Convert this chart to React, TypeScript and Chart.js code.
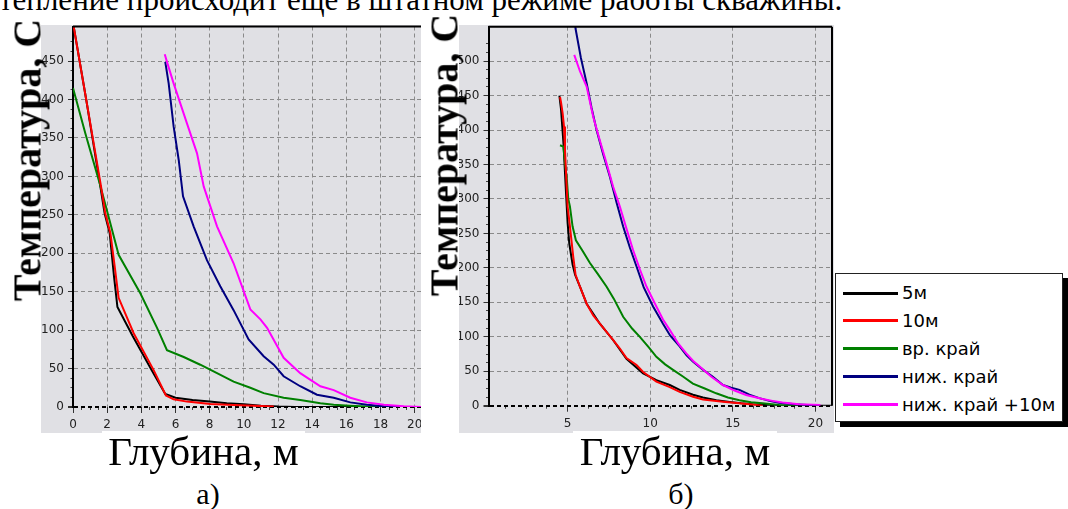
import React, { useEffect, useRef } from 'react';
import { Chart, registerables } from 'chart.js';

Chart.register(...registerables);

type Pt = [number, number];

// ---------- data ----------
const seriesLabels = ['5м', '10м', 'вр. край', 'ниж. край', 'ниж. край +10м'];
const seriesColors = ['#000000', '#ff0000', '#008000', '#000080', '#ff00ff'];

// chart а)
const a5m: Pt[] = [[0, 500], [0.78, 399], [1.6, 287], [1.85, 252], [2.15, 226], [2.4, 170], [2.6, 130], [3.5, 92], [4.6, 48], [5.4, 17], [6, 12], [7, 9], [8, 7], [9, 5], [10, 3.5], [11, 1.5], [12, 0.5], [13, 0], [20.4, 0]];
const a10m: Pt[] = [[0, 500], [0.78, 399], [1.64, 287], [1.89, 252], [2.19, 226], [2.44, 183], [2.67, 142], [3.55, 96], [4.72, 48], [5.44, 15], [5.89, 10], [6.67, 7], [8.04, 4], [9.4, 2.5], [10.6, 1.5], [11.75, 0.5]];
const aTop: Pt[] = [[0, 415], [0.72, 356], [1.56, 291], [2.03, 252], [2.67, 198], [3.94, 148], [4.92, 103], [5.5, 74], [6.48, 65], [7.45, 55], [8.43, 44], [9.4, 33], [10.38, 25], [11.16, 18], [12.33, 12], [13.3, 9], [14.48, 5], [15.26, 3], [16.2, 1.7], [17.2, 0.5], [18.2, 0]];
const aBottom: Pt[] = [[5.4, 449], [5.6, 421], [5.89, 365], [6.19, 321], [6.44, 274], [7.06, 235], [7.84, 191], [8.62, 157], [9.4, 126], [10.28, 88], [11.16, 66], [11.75, 55], [12.33, 40], [13.3, 27], [14.28, 16], [15.26, 12], [16.23, 6], [17.2, 3], [18.2, 0.9], [19.2, 0]];
const aBottom10: Pt[] = [[5.37, 459], [5.5, 449], [5.89, 421], [6.67, 369], [7.26, 330], [7.65, 287], [8.43, 235], [9.4, 187], [10.38, 127], [10.97, 114], [11.36, 103], [12.33, 64], [13.3, 44], [14.48, 27], [15.26, 22], [16.23, 12], [17.2, 6], [18.2, 3], [19.36, 0.9], [20.4, 0]];

// chart б)
const b5m: Pt[] = [[4.5, 450], [4.6, 430], [4.75, 380], [4.9, 310], [5.0, 265], [5.1, 235], [5.3, 205], [5.45, 190], [5.74, 173], [6.15, 148], [6.95, 119], [7.76, 95], [8.56, 68], [9.57, 47], [10.37, 37], [11.18, 30], [11.78, 23], [12.59, 16], [13.19, 12], [14, 8], [14.8, 5.5], [15.5, 3.5], [16.2, 2], [17, 1], [17.6, 0], [21, 0]];
const b10m: Pt[] = [[4.54, 448], [4.6, 440], [4.7, 424], [4.78, 405], [4.84, 371], [4.94, 318], [5.0, 289], [5.14, 260], [5.34, 216], [5.48, 190], [5.74, 173], [6.15, 148], [6.55, 131], [6.95, 119], [7.76, 95], [8.16, 83], [8.56, 69], [9.17, 59], [9.57, 49], [10.37, 35], [11.18, 27], [11.78, 20], [12.59, 13], [13.19, 9], [14.4, 5.8], [15.4, 3.4], [16.0, 2], [16.8, 0]];
const bTop: Pt[] = [[4.54, 378], [4.74, 376], [4.85, 350], [4.94, 332], [5.04, 300], [5.14, 289], [5.3, 260], [5.5, 240], [5.9, 225], [6.35, 207], [6.8, 192], [7.35, 173], [7.8, 155], [8.36, 129], [8.9, 112], [9.37, 100], [9.9, 85], [10.37, 71], [10.9, 60], [11.38, 52], [12.0, 42], [12.58, 32], [13.3, 25], [13.99, 18], [14.7, 12], [15.4, 8], [16.1, 5], [16.8, 3.4], [17.8, 1], [18.8, 0]];
const bBottom: Pt[] = [[5.42, 560], [5.48, 547], [5.8, 505], [6.15, 468], [6.45, 432], [6.75, 400], [7.15, 365], [7.56, 332], [7.96, 295], [8.36, 260], [8.76, 230], [9.17, 202], [9.6, 172], [10.17, 144], [10.77, 119], [11.2, 102], [11.78, 86], [12.2, 73], [12.58, 64], [13.2, 52], [13.79, 42], [14.4, 30], [14.9, 26], [15.4, 23], [16.0, 16], [16.6, 11], [17.2, 7], [17.8, 4.4], [18.8, 2], [19.5, 1], [20.2, 0]];
const bBottom10: Pt[] = [[5.4, 509], [5.75, 485], [6.15, 463], [6.55, 419], [6.95, 385], [7.35, 352], [7.75, 318], [8.16, 289], [8.56, 257], [8.96, 226], [9.37, 198], [9.77, 173], [10.37, 144], [10.77, 125], [11.18, 110], [11.7, 90], [12.18, 76], [12.6, 65], [12.99, 57], [13.7, 42], [14.4, 30], [15.1, 22], [15.8, 15.5], [16.8, 9.7], [17.4, 7], [18.0, 4.8], [19.0, 2], [20.3, 1]];

const seriesA = [a5m, a10m, aTop, aBottom, aBottom10];
const seriesB = [b5m, b10m, bTop, bBottom, bBottom10];
const drawOrder = [5, 2, 4, 3, 1];

// axes: [min, max], major step (labels + grid), minor step (small ticks)
const xRangeA = [0, 20.37];
const yRangeA = [0, 495];
const xMajorA = 2;
const xMinorA = 0.5;
const yMajorA = 50;
const yMinorA = 12.5;
const yLabelMaxA = 450;

const xRangeB = [0.21, 21.0];
const yRangeB = [0, 550];
const xMajorB = 5;
const xMinorB = 1.25;
const yMajorB = 50;
const yMinorB = 12.5;
const yLabelMaxB = 500;

const topText = 'тепление происходит еще в штатном режиме работы скважины.';
const yTitle = 'Температура, С';
const xTitle = 'Глубина, м';
const captions = ['а)', 'б)'];

// ---------- styles ----------
const GREY = '#e0e0e4';
const GRID = '#8a8a8a';
const TICK_FONT = { family: 'DejaVu Sans', size: 12 };
const SERIF = '"Liberation Serif", "Times New Roman", serif';
const CLEAR = 'rgba(0,0,0,0)';

const framePlugin = {
  id: 'frame',
  afterDatasetsDraw(chart: any, _args: any, opts: any) {
    const { ctx, chartArea } = chart;
    const { left, right, top, bottom } = chartArea;
    ctx.save();
    ctx.strokeStyle = '#000';
    ctx.lineWidth = 2;
    ctx.setLineDash([]);
    ctx.beginPath();
    ctx.moveTo(left, top);
    ctx.lineTo(right, top);
    if (opts && opts.right) {
      ctx.moveTo(right, top);
      ctx.lineTo(right, bottom);
    }
    ctx.stroke();
    ctx.restore();
  },
};

const isMult = (v: number, step: number) => {
  const r = Math.abs(v / step - Math.round(v / step));
  return r < 1e-6;
};

interface Cfg {
  series: Pt[][];
  xr: number[];
  yr: number[];
  xMajor: number;
  xMinor: number;
  yMajor: number;
  yMinor: number;
  yLabelMax: number;
  yWidth: number;
  xHeight: number;
  padTop: number;
  padRight: number;
  rightFrame: boolean;
}

function makeConfig(c: Cfg): any {
  return {
    type: 'line',
    data: {
      datasets: c.series.map((pts, i) => ({
        label: seriesLabels[i],
        data: pts.map(([x, y]) => ({ x, y })),
        borderColor: seriesColors[i],
        backgroundColor: seriesColors[i],
        borderWidth: 2,
        pointRadius: 0,
        tension: 0,
        fill: false,
        order: drawOrder[i],
        xAxisID: 'x',
        yAxisID: 'y',
      })),
    },
    plugins: [framePlugin],
    options: {
      animation: false,
      responsive: false,
      maintainAspectRatio: false,
      events: [],
      layout: { padding: { left: 0, right: c.padRight, top: c.padTop, bottom: 0 } },
      plugins: {
        legend: { display: false },
        tooltip: { enabled: false },
        frame: { right: c.rightFrame },
      },
      scales: {
        x: {
          type: 'linear',
          position: 'bottom',
          weight: 0,
          min: c.xr[0],
          max: c.xr[1],
          ticks: {
            stepSize: c.xMajor,
            includeBounds: false,
            autoSkip: false,
            maxRotation: 0,
            color: '#222',
            font: TICK_FONT,
            padding: 5,
          },
          grid: {
            color: GRID,
            lineWidth: 1,
            tickColor: '#333',
            tickLength: 6,
          },
          border: { display: false, dash: [4, 3] },
          afterFit: (s: any) => {
            s.height = c.xHeight;
            s.paddingLeft = 0;
            s.paddingRight = 0;
          },
        },
        xMinor: {
          type: 'linear',
          position: 'bottom',
          weight: -1,
          min: c.xr[0],
          max: c.xr[1],
          ticks: { stepSize: c.xMinor, includeBounds: false, autoSkip: false, display: false },
          grid: {
            drawOnChartArea: false,
            tickColor: (ctx: any) => (ctx.tick && isMult(ctx.tick.value, c.xMajor) ? CLEAR : '#444'),
            tickLength: 3,
          },
          border: { display: false },
          afterFit: (s: any) => {
            s.height = 0;
            s.paddingLeft = 0;
            s.paddingRight = 0;
          },
        },
        y: {
          type: 'linear',
          position: 'left',
          weight: 0,
          min: c.yr[0],
          max: c.yr[1],
          ticks: {
            stepSize: c.yMajor,
            includeBounds: false,
            color: '#222',
            font: TICK_FONT,
            padding: 4,
            callback: (v: number) => (v <= c.yLabelMax ? String(v) : ''),
          },
          grid: {
            color: (ctx: any) =>
              ctx.tick && ctx.tick.value === 0 ? '#000' : ctx.tick && ctx.tick.value > c.yLabelMax ? CLEAR : GRID,
            lineWidth: (ctx: any) => (ctx.tick && ctx.tick.value === 0 ? 2 : 1),
            tickColor: (ctx: any) => (ctx.tick && ctx.tick.value > c.yLabelMax ? CLEAR : '#333'),
            tickLength: 5,
          },
          border: { display: true, color: '#000', width: 2, dash: [4, 3] },
          afterFit: (s: any) => {
            s.width = c.yWidth;
            s.paddingTop = 0;
            s.paddingBottom = 0;
          },
        },
        yMinor: {
          type: 'linear',
          position: 'left',
          weight: -1,
          min: c.yr[0],
          max: c.yr[1],
          ticks: { stepSize: c.yMinor, includeBounds: false, display: false },
          grid: {
            drawOnChartArea: false,
            tickColor: (ctx: any) =>
              ctx.tick && (isMult(ctx.tick.value, c.yMajor) || ctx.tick.value > c.yLabelMax + 25) ? CLEAR : '#444',
            tickLength: 2.5,
          },
          border: { display: false },
          afterFit: (s: any) => {
            s.width = 0;
            s.paddingTop = 0;
            s.paddingBottom = 0;
          },
        },
      },
    },
  };
}

function ChartCanvas(props: { left: number; top: number; width: number; height: number; make: () => any }) {
  const ref = useRef<HTMLCanvasElement>(null);
  useEffect(() => {
    const chart = new Chart(ref.current as HTMLCanvasElement, props.make());
    return () => chart.destroy();
  }, []);
  return (
    <canvas
      ref={ref}
      width={props.width}
      height={props.height}
      style={{
        position: 'absolute',
        left: props.left,
        top: props.top,
        width: props.width,
        height: props.height,
        background: GREY,
      }}
    />
  );
}

function YTitle({ cx, cy }: { cx: number; cy: number }) {
  return (
    <div
      style={{
        position: 'absolute',
        left: cx,
        top: cy,
        transform: 'translate(-50%, -50%) rotate(-90deg)',
        fontFamily: SERIF,
        fontWeight: 'bold',
        fontSize: 40,
        whiteSpace: 'nowrap',
        color: '#000',
        zIndex: 2,
      }}
    >
      {yTitle}
    </div>
  );
}

function XTitle({ left, width }: { left: number; width: number }) {
  return (
    <div
      style={{
        position: 'absolute',
        left,
        top: 431,
        width,
        height: 41,
        background: '#fff',
        fontFamily: SERIF,
        fontSize: 41,
        lineHeight: '41px',
        textAlign: 'center',
        whiteSpace: 'nowrap',
        color: '#000',
        zIndex: 2,
      }}
    >
      {xTitle}
    </div>
  );
}

function Caption({ cx, text }: { cx: number; text: string }) {
  return (
    <div
      style={{
        position: 'absolute',
        left: cx - 40,
        width: 80,
        top: 479,
        fontFamily: SERIF,
        fontSize: 30,
        lineHeight: '30px',
        textAlign: 'center',
        color: '#000',
      }}
    >
      {text}
    </div>
  );
}

function Legend() {
  return (
    <div
      style={{
        position: 'absolute',
        left: 835,
        top: 273,
        width: 228,
        height: 149,
        boxSizing: 'border-box',
        border: '1.5px solid #222',
        background: '#fff',
        boxShadow: '5px 5px 0 #000',
        zIndex: 3,
      }}
    >
      {seriesLabels.map((lab, i) => (
        <div
          key={lab}
          style={{
            position: 'absolute',
            left: 7,
            top: 19 + 27.9 * i - 10,
            height: 20,
            display: 'flex',
            alignItems: 'center',
            whiteSpace: 'nowrap',
          }}
        >
          <div style={{ width: 55, height: 3, background: seriesColors[i] }} />
          <div
            style={{
              marginLeft: 4,
              fontFamily: '"DejaVu Sans", sans-serif',
              fontSize: 18,
              lineHeight: '20px',
              color: '#000',
            }}
          >
            {lab}
          </div>
        </div>
      ))}
    </div>
  );
}

export default function App() {
  return (
    <div
      style={{
        position: 'absolute',
        left: 0,
        top: 0,
        width: 1068,
        height: 509,
        background: '#fff',
        overflow: 'hidden',
      }}
    >
      <div
        style={{
          position: 'absolute',
          left: -1,
          top: -16,
          fontFamily: SERIF,
          fontSize: 31,
          lineHeight: '31px',
          whiteSpace: 'nowrap',
          color: '#000',
        }}
      >
        {topText}
      </div>
      <ChartCanvas
        left={41}
        top={25}
        width={380}
        height={408}
        make={() =>
          makeConfig({
            series: seriesA,
            xr: xRangeA,
            yr: yRangeA,
            xMajor: xMajorA,
            xMinor: xMinorA,
            yMajor: yMajorA,
            yMinor: yMinorA,
            yLabelMax: yLabelMaxA,
            yWidth: 32,
            xHeight: 26,
            padTop: 1.5,
            padRight: 0,
            rightFrame: false,
          })
        }
      />
      <ChartCanvas
        left={459}
        top={25}
        width={375}
        height={408}
        make={() =>
          makeConfig({
            series: seriesB,
            xr: xRangeB,
            yr: yRangeB,
            xMajor: xMajorB,
            xMinor: xMinorB,
            yMajor: yMajorB,
            yMinor: yMinorB,
            yLabelMax: yLabelMaxB,
            yWidth: 29.5,
            xHeight: 27.3,
            padTop: 1.7,
            padRight: 2,
            rightFrame: true,
          })
        }
      />
      <YTitle cx={26.5} cy={160} />
      <YTitle cx={443.5} cy={155} />
      <XTitle left={102} width={203} />
      <XTitle left={573} width={204} />
      <Caption cx={208} text={captions[0]} />
      <Caption cx={681} text={captions[1]} />
      <Legend />
    </div>
  );
}
